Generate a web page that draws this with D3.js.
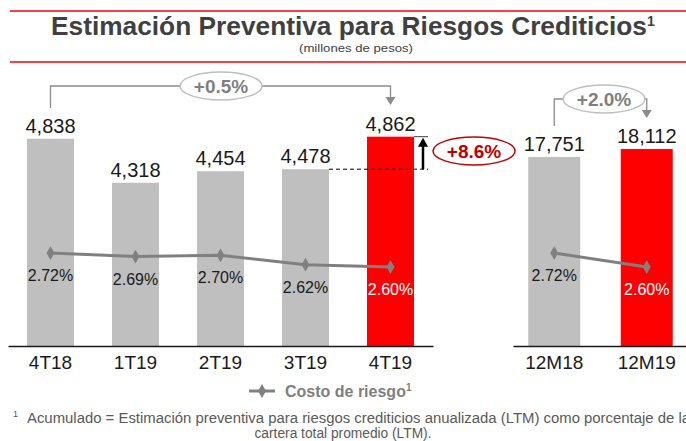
<!DOCTYPE html>
<html>
<head>
<meta charset="utf-8">
<script src="https://cdn.jsdelivr.net/npm/d3@7"></script>
<style>
  body { margin: 0; background: #fff; }
  svg { display: block; font-family: "Liberation Sans", Arial, sans-serif; }
</style>
</head>
<body>
<div id="chart"></div>
<script>
// ─── data ─────────────────────────────────────────────────────────────
const quarters = ["4T18", "1T19", "2T19", "3T19", "4T19"];
const quarterValues = [4838, 4318, 4454, 4478, 4862];
const quarterCost = [2.72, 2.69, 2.70, 2.62, 2.60];

const years = ["12M18", "12M19"];
const yearValues = [17751, 18112];
const yearCost = [2.72, 2.60];

const changeQuarter = "+0.5%";
const changeYear = "+2.0%";
const changeStep = "+8.6%";

const W = 686, H = 441;
const GRAY = "#bfbfbf", RED = "#ff0000", LINE = "#808080";

const svg = d3.select("#chart").append("svg")
  .attr("width", W).attr("height", H);

// ─── header ───────────────────────────────────────────────────────────
svg.append("line").attr("x1", 10).attr("x2", W).attr("y1", 11).attr("y2", 11)
  .attr("stroke", RED).attr("stroke-width", 1.5);
svg.append("line").attr("x1", 10).attr("x2", W).attr("y1", 62).attr("y2", 62)
  .attr("stroke", RED).attr("stroke-width", 1.5);

const title = svg.append("text")
  .attr("x", 51).attr("y", 35)
  .attr("fill", "#404040")
  .style("font-weight", "bold");
title.append("tspan").style("font-size", "25.5px")
  .attr("textLength", 596).attr("lengthAdjust", "spacingAndGlyphs")
  .text("Estimación Preventiva para Riesgos Crediticios");
title.append("tspan").attr("dy", -9).style("font-size", "14px").text("1");

svg.append("text")
  .attr("x", 356).attr("y", 52)
  .attr("text-anchor", "middle")
  .attr("fill", "#404040")
  .style("font-size", "11.5px")
  .attr("textLength", 114).attr("lengthAdjust", "spacingAndGlyphs")
  .text("(millones de pesos)");

// ─── scales ───────────────────────────────────────────────────────────
const baseY = 346;

const xLeft = d3.scaleBand().domain(quarters).range([8, 433])
  .paddingInner(0.447).paddingOuter(0.2235);
const xRight = d3.scaleBand().domain(years).range([513, 688])
  .paddingInner(0.438).paddingOuter(0.165);

const yLeft = d3.scaleLinear().domain([2390, 5000]).range([baseY, 125]);
const yRight = d3.scaleLinear().domain([9237, 18500]).range([baseY, 140.4]);
const yCost = d3.scaleLinear().domain([2.5, 2.8]).range([278.7, 243.7]);

const fmt = d3.format(",");
const pct = d => d.toFixed(2) + "%";

// ─── panels ───────────────────────────────────────────────────────────
function drawPanel(cats, values, costs, x, y) {
  const g = svg.append("g");
  const last = cats.length - 1;
  const data = cats.map((c, i) => ({ c, v: values[i], k: costs[i], i }));

  g.selectAll(".bar").data(data).enter().append("rect")
    .attr("x", d => x(d.c))
    .attr("width", x.bandwidth())
    .attr("y", d => y(d.v))
    .attr("height", d => baseY - y(d.v))
    .attr("fill", d => d.i === last ? RED : GRAY);

  g.selectAll(".val").data(data).enter().append("text")
    .attr("x", d => x(d.c) + x.bandwidth() / 2)
    .attr("y", d => y(d.v) - 6)
    .attr("text-anchor", "middle")
    .attr("fill", "#1a1a1a")
    .style("font-size", "20px")
    .text(d => fmt(d.v));

  const line = d3.line()
    .x(d => x(d.c) + x.bandwidth() / 2)
    .y(d => yCost(d.k));
  g.append("path").datum(data)
    .attr("d", line)
    .attr("fill", "none")
    .attr("stroke", LINE)
    .attr("stroke-width", 3);

  g.selectAll(".pt").data(data).enter().append("path")
    .attr("d", d3.symbol(d3.symbolDiamond, 55))
    .attr("transform", d => `translate(${x(d.c) + x.bandwidth() / 2},${yCost(d.k)})`)
    .attr("fill", LINE);

  g.selectAll(".pct").data(data).enter().append("text")
    .attr("x", d => x(d.c) + x.bandwidth() / 2)
    .attr("y", d => yCost(d.k) + 28)
    .attr("text-anchor", "middle")
    .attr("fill", d => d.i === last ? "#fff" : "#1a1a1a")
    .style("font-size", "16px")
    .text(d => pct(d.k));

  const axis = g.append("g")
    .attr("transform", `translate(0,${baseY})`)
    .call(d3.axisBottom(x).tickSize(0).tickPadding(10));
  axis.select(".domain").attr("stroke", "#1a1a1a").attr("stroke-width", 1.5);
  axis.selectAll("text")
    .attr("fill", "#1a1a1a")
    .style("font-family", "'Liberation Sans', Arial, sans-serif")
    .style("font-size", "19px");
}

drawPanel(quarters, quarterValues, quarterCost, xLeft, yLeft);
drawPanel(years, yearValues, yearCost, xRight, yRight);

// ─── annotations ──────────────────────────────────────────────────────
svg.append("defs").append("marker")
  .attr("id", "arrGray").attr("viewBox", "0 0 10 10")
  .attr("refX", 5).attr("refY", 9)
  .attr("markerWidth", 4).attr("markerHeight", 4)
  .attr("orient", "auto-start-reverse")
  .append("path").attr("d", "M0,0 L10,0 L5,10 Z").attr("fill", "#8c8c8c");

function bracket(x1, y1, x2, y2, yTop, cx, label) {
  svg.append("path")
    .attr("d", `M${x1},${y1} V${yTop} H${x2} V${y2 - 7}`)
    .attr("fill", "none").attr("stroke", "#8c8c8c").attr("stroke-width", 1.3);
  svg.append("path")
    .attr("d", `M${x2 - 5},${y2 - 8} L${x2 + 5},${y2 - 8} L${x2},${y2} Z`)
    .attr("fill", "#8c8c8c");
  svg.append("ellipse")
    .attr("cx", cx).attr("cy", yTop).attr("rx", 41).attr("ry", 14)
    .attr("fill", "#fff").attr("stroke", "#bfbfbf").attr("stroke-width", 1.5);
  svg.append("text")
    .attr("x", cx).attr("y", yTop + 7)
    .attr("text-anchor", "middle")
    .attr("fill", "#7f7f7f")
    .style("font-size", "19px").style("font-weight", "bold")
    .text(label);
}

const cL = c => xLeft(c) + xLeft.bandwidth() / 2;
const cR = c => xRight(c) + xRight.bandwidth() / 2;

bracket(cL("4T18"), 108, cL("4T19"), 105, 86, 221, changeQuarter);
bracket(cR("12M18"), 126, cR("12M19"), 118, 99, 604, changeYear);

// step from 3T19 to 4T19
const yPrev = yLeft(quarterValues[3]);
const yNow = yLeft(quarterValues[4]);
const xEnd = xLeft("4T19") + xLeft.bandwidth();
svg.append("line")
  .attr("x1", xLeft("3T19") + xLeft.bandwidth()).attr("x2", 428)
  .attr("y1", yPrev).attr("y2", yPrev)
  .attr("stroke", "#000").attr("stroke-width", 1).attr("stroke-dasharray", "4,3");
svg.append("line")
  .attr("x1", xEnd).attr("x2", 428)
  .attr("y1", yNow).attr("y2", yNow)
  .attr("stroke", "#404040").attr("stroke-width", 1);
svg.append("line")
  .attr("x1", 423).attr("x2", 423)
  .attr("y1", yPrev).attr("y2", yNow + 8)
  .attr("stroke", "#000").attr("stroke-width", 2.5);
svg.append("path")
  .attr("d", `M${418},${yNow + 10} L${428},${yNow + 10} L${423},${yNow + 1} Z`)
  .attr("fill", "#000");

svg.append("ellipse")
  .attr("cx", 474).attr("cy", 151).attr("rx", 41).attr("ry", 14)
  .attr("fill", "#fff").attr("stroke", "#c00000").attr("stroke-width", 1.5);
svg.append("text")
  .attr("x", 474).attr("y", 158)
  .attr("text-anchor", "middle")
  .attr("fill", "#c00000")
  .style("font-size", "19px").style("font-weight", "bold")
  .text(changeStep);

// ─── legend ───────────────────────────────────────────────────────────
const leg = svg.append("g");
leg.append("line").attr("x1", 249).attr("x2", 275).attr("y1", 391).attr("y2", 391)
  .attr("stroke", LINE).attr("stroke-width", 3);
leg.append("path").attr("d", d3.symbol(d3.symbolDiamond, 55))
  .attr("transform", "translate(262,391)").attr("fill", LINE);
const legText = leg.append("text").attr("x", 285).attr("y", 397)
  .attr("fill", "#7f7f7f").style("font-weight", "bold");
legText.append("tspan").style("font-size", "16px").text("Costo de riesgo");
legText.append("tspan").attr("dy", -6).style("font-size", "10px").text("1");

// ─── footnote ─────────────────────────────────────────────────────────
svg.append("text").attr("x", 13).attr("y", 417)
  .attr("fill", "#595959").style("font-size", "9px").text("1");
svg.append("text").attr("x", 27).attr("y", 423)
  .attr("fill", "#595959").style("font-size", "14px")
  .attr("textLength", 663).attr("lengthAdjust", "spacingAndGlyphs")
  .text("Acumulado = Estimación preventiva para riesgos crediticios anualizada (LTM) como porcentaje de la");
svg.append("text").attr("x", 343).attr("y", 438)
  .attr("text-anchor", "middle")
  .attr("fill", "#595959").style("font-size", "14px")
  .attr("textLength", 177).attr("lengthAdjust", "spacingAndGlyphs")
  .text("cartera total promedio (LTM).");
</script>
</body>
</html>
